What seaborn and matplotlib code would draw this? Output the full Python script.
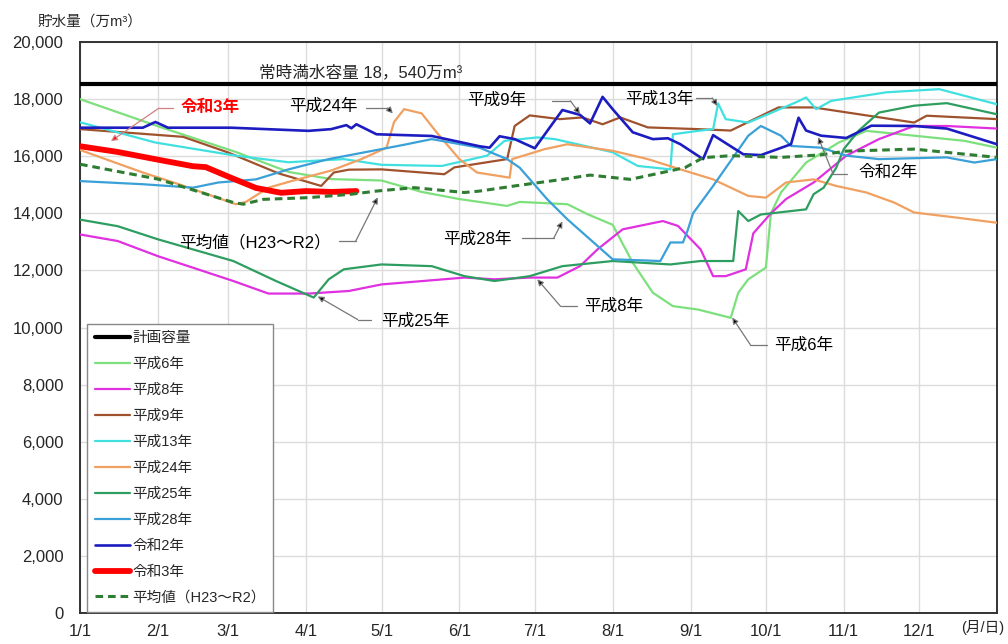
import matplotlib
matplotlib.use('Agg')
import matplotlib.pyplot as plt
import numpy as np
import pandas as pd
import seaborn as sns

sns.set_style('white')
plt.rcParams['font.family'] = ['Liberation Sans', 'Noto Sans CJK JP', 'DejaVu Sans']

# x = days since Jan 1, y = storage (10^4 m3)
MONTH_DAYS = [0, 31, 59, 90, 120, 151, 181, 212, 243, 273, 304, 334]
MONTH_LABELS = ['1/1', '2/1', '3/1', '4/1', '5/1', '6/1', '7/1', '8/1', '9/1',
                '10/1', '11/1', '12/1']
PLAN_CAPACITY = 18540

h6_days = [0, 31, 62, 83, 100, 120, 136, 151, 170, 175, 194, 202, 212, 220, 228,
           236, 246, 259, 262, 266, 273, 275, 279, 289, 302, 313, 332, 352, 365]
h6_vals = [18000, 17050, 16150, 15450, 15200, 15150, 14750, 14500, 14260, 14400,
           14320, 13970, 13600, 12270, 11220, 10750, 10630, 10340, 11220, 11690,
           12100, 14000, 14730, 15780, 16480, 16890, 16720, 16540, 16300]

h8_days = [0, 15, 31, 61, 75, 91, 107, 120, 153, 165, 179, 190, 199, 206, 216,
           232, 238, 247, 252, 257, 265, 268, 275, 281, 292, 305, 318, 332, 345, 365]
h8_vals = [13260, 13030, 12500, 11630, 11190, 11190, 11280, 11510, 11750, 11690,
           11750, 11750, 12150, 12740, 13440, 13730, 13560, 12740, 11800, 11800,
           12040, 13300, 14000, 14500, 15080, 16020, 16600, 17060, 17060, 16970]

h9_days = [0, 41, 59, 79, 96, 101, 107, 120, 145, 149, 170, 173, 179, 191, 200,
           208, 215, 226, 246, 259, 278, 292, 332, 337, 365]
h9_vals = [16950, 16680, 16130, 15400, 14960, 15430, 15530, 15540, 15370, 15610,
           15900, 17060, 17430, 17300, 17360, 17120, 17360, 17010, 16950, 16900,
           17710, 17710, 17180, 17420, 17300]

h13_days = [0, 30, 62, 83, 105, 120, 144, 162, 169, 182, 189, 212, 222, 235, 236,
            247, 252, 254, 257, 266, 285, 289, 293, 299, 321, 342, 365]
h13_vals = [17190, 16480, 16020, 15790, 15900, 15700, 15660, 16020, 16540, 16660,
            16600, 16140, 15660, 15540, 16770, 16900, 16950, 17850, 17300, 17180,
            17890, 18060, 17650, 17940, 18240, 18350, 17820]

h24_days = [0, 25, 40, 62, 66, 75, 85, 100, 112, 122, 125, 129, 136, 142, 151,
            158, 171, 172, 185, 194, 212, 226, 239, 252, 266, 273, 281, 292, 301,
            313, 324, 332, 349, 365]
h24_vals = [16220, 15430, 15000, 14320, 14400, 14900, 15150, 15500, 15900, 16300,
            17200, 17650, 17500, 16830, 15900, 15430, 15250, 15900, 16250, 16420,
            16190, 15900, 15540, 15190, 14610, 14550, 15080, 15190, 14960, 14730,
            14380, 14030, 13850, 13670]

h25_days = [0, 15, 31, 61, 78, 93, 99, 105, 120, 140, 153, 165, 179, 192, 212,
            235, 247, 260, 262, 266, 271, 289, 292, 296, 301, 304, 310, 318, 332,
            345, 365]
h25_vals = [13780, 13550, 13090, 12330, 11630, 11050, 11690, 12040, 12210, 12150,
            11800, 11630, 11800, 12150, 12330, 12210, 12330, 12330, 14080, 13730,
            13960, 14140, 14670, 14900, 15600, 16250, 16900, 17530, 17770, 17860,
            17470]

h28_days = [0, 25, 45, 55, 70, 83, 99, 120, 130, 140, 159, 170, 175, 186, 194,
            212, 231, 235, 240, 242, 244, 252, 266, 271, 279, 283, 295, 305, 318,
            345, 356, 365]
h28_vals = [15130, 15020, 14900, 15080, 15190, 15540, 15900, 16250, 16420, 16600,
            16300, 15900, 15600, 14490, 13790, 12390, 12330, 12980, 12980, 13440,
            14000, 14960, 16720, 17060, 16720, 16360, 16300, 16020, 15900, 15960,
            15780, 15900]

r2_days = [0, 25, 30, 35, 60, 91, 100, 106, 108, 110, 118, 140, 159, 163, 167,
           173, 181, 192, 199, 203, 208, 212, 220, 228, 234, 239, 248, 252, 264,
           271, 283, 286, 289, 295, 305, 315, 332, 345, 365]
r2_vals = [17000, 17000, 17200, 17000, 17000, 16890, 16950, 17090, 16980, 17120,
           16770, 16710, 16350, 16300, 16700, 16600, 16280, 17620, 17450, 17150,
           18080, 17650, 16840, 16600, 16630, 16420, 15900, 16740, 16070, 16040,
           16420, 17350, 16900, 16720, 16640, 17070, 17060, 16970, 16420]

r3_days = [0, 15, 31, 45, 50, 60, 70, 80, 90, 100, 110]
r3_vals = [16350, 16150, 15880, 15650, 15620, 15250, 14890, 14720, 14780, 14750,
           14780]

avg_days = [0, 31, 61, 65, 73, 91, 108, 118, 133, 153, 159, 173, 192, 203, 219,
            235, 241, 248, 259, 279, 295, 305, 332, 365]
avg_vals = [15720, 15200, 14380, 14320, 14490, 14550, 14670, 14780, 14900, 14730,
            14780, 14960, 15190, 15340, 15190, 15490, 15610, 15950, 16020, 15960,
            16050, 16180, 16250, 15960]

series = [
    ('平成6年', h6_days, h6_vals, '#7de07d', 1.6, '-'),
    ('平成8年', h8_days, h8_vals, '#e030e0', 1.6, '-'),
    ('平成9年', h9_days, h9_vals, '#a0522d', 1.6, '-'),
    ('平成13年', h13_days, h13_vals, '#40e0e0', 1.6, '-'),
    ('平成24年', h24_days, h24_vals, '#f0a060', 1.6, '-'),
    ('平成25年', h25_days, h25_vals, '#2e9e60', 1.6, '-'),
    ('平成28年', h28_days, h28_vals, '#3aa0d8', 1.6, '-'),
    ('令和2年', r2_days, r2_vals, '#1c1cc0', 1.9, '-'),
    ('令和3年', r3_days, r3_vals, '#ff0000', 4.2, '-'),
    ('平均値（H23～R2）', avg_days, avg_vals, '#2e7d32', 2.2, (0, (2.5, 1.6))),
]

frames = []
for name, d, v, *_ in series:
    frames.append(pd.DataFrame({'day': d, 'value': v, 'series': name}))
df = pd.concat(frames, ignore_index=True)

fig = plt.figure(figsize=(10.08, 6.44), dpi=100)
ax = fig.add_axes([0.0794, 0.0481, 0.9097, 0.8866])

ax.axhline(PLAN_CAPACITY, color='black', lw=3, label='計画容量', zorder=3)
for name, d, v, color, lw, ls in series:
    sns.lineplot(data=df[df['series'] == name], x='day', y='value', ax=ax,
                 color=color, lw=lw, linestyle=ls, label=name,
                 estimator=None, sort=False, zorder=3)

ax.set_xlim(0, 365)
ax.set_ylim(0, 20000)
ax.set_xticks(MONTH_DAYS)
ax.set_xticklabels(MONTH_LABELS)
ax.set_yticks(np.arange(0, 20001, 2000))
ax.set_yticklabels([f'{v:,}' for v in range(0, 20001, 2000)])
ax.set_xlabel('')
ax.set_ylabel('')
ax.grid(True, color='#dcdcdc', lw=1)
ax.tick_params(direction='in', length=4, labelsize=12)
ax.tick_params(axis='y', pad=12)
ax.tick_params(axis='x', pad=8)
for s in ax.spines.values():
    s.set_color('#333333')
    s.set_linewidth(1.4)

leg = ax.legend(loc='lower left', bbox_to_anchor=(0.008, 0.002), borderaxespad=0,
                fontsize=10.5, fancybox=False, framealpha=1, edgecolor='#888888',
                handlelength=2.4, handletextpad=0.2, labelspacing=0.82,
                borderpad=0.5)
leg.get_frame().set_linewidth(1.0)

ax.text(71.2, 18950, '常時満水容量 18，540万m³', ha='left', va='center', fontsize=12)


def leader(text, txy, hx0, hx1, hy, target, tcolor='black', head='black',
           line='#777777', weight='normal'):
    ax.text(txy[0], txy[1], text, ha='center', va='center', fontsize=12,
            color=tcolor, fontweight=weight, zorder=5)
    ax.plot([hx0, hx1], [hy, hy], color=line, lw=0.9, zorder=5)
    ax.annotate('', xy=target, xytext=(hx1, hy), zorder=5,
                arrowprops=dict(arrowstyle='-|>', lw=0.9, ec=line, fc=head,
                                mutation_scale=9, shrinkA=0, shrinkB=0))


leader('令和3年', (52, 17720), 37, 31.4, 17685, (12.3, 16530), tcolor='red',
       head='red', line='#d08080', weight='bold')
leader('平成24年', (97, 17760), 114, 122.5, 17690, (124.5, 17500))
leader('平成9年', (166, 17977), 188, 195.2, 17940, (199, 17480))
leader('平成13年', (230.6, 18000), 245, 251.7, 18040, (253.7, 17760))
leader('令和2年', (321.7, 15440), 305.4, 299.8, 15370, (293.8, 16670))
leader('平成28年', (158, 13090), 176, 188.5, 13120, (192, 13720))
leader('平均値（H23～R2）', (69.6, 12980), 103, 109.7, 13020, (118.5, 14560))
leader('平成25年', (133.6, 10210), 115.7, 110.5, 10280, (94.6, 11090))
leader('平成8年', (212.3, 10740), 198, 191.3, 10740, (182, 11690))
leader('平成6年', (288, 9400), 273.5, 266.8, 9400, (259.6, 10350))

fig.text(0.037, 0.966, '貯水量（万m³）', ha='left', va='center', fontsize=10.5)
fig.text(0.996, 0.025, '(月/日)', ha='right', va='center', fontsize=10.5)

fig.savefig('out.png', dpi=100)
